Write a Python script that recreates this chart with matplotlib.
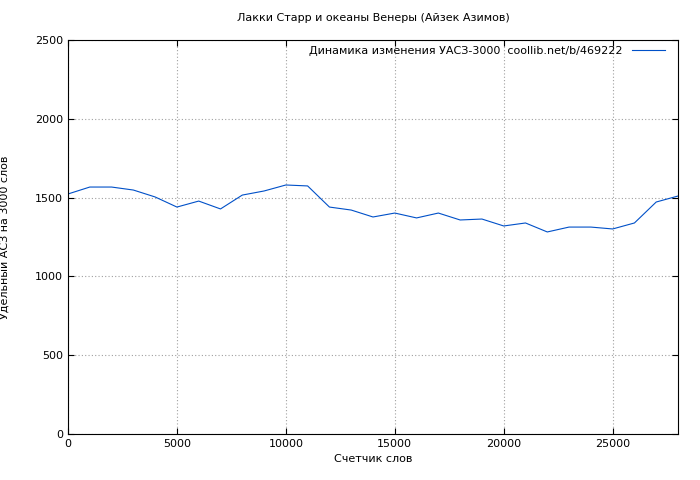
import matplotlib
matplotlib.use("Agg")
import matplotlib.pyplot as plt

words = [0, 1000, 2000, 3000, 4000, 5000, 6000, 7000, 8000, 9000, 10000,
         11000, 12000, 13000, 14000, 15000, 16000, 17000, 18000, 19000,
         20000, 21000, 22000, 23000, 24000, 25000, 26000, 27000, 28000]
uas = [1523, 1567, 1567, 1548, 1504, 1440, 1478, 1428, 1516, 1542, 1580,
       1574, 1440, 1421, 1377, 1402, 1371, 1402, 1358, 1364,
       1320, 1339, 1282, 1313, 1313, 1301, 1339, 1472, 1510]

plt.rcParams['font.size'] = 8
fig = plt.figure(figsize=(7, 4.8), dpi=100)
ax = fig.add_axes([68/700, 46/480, 610/700, 394/480])
ax.plot(words, uas, color='#0050c8', lw=0.8,
        label='Динамика изменения УАСЗ-3000  coollib.net/b/469222')
ax.set_xlim(0, 28000)
ax.set_ylim(0, 2500)
ax.set_xticks(range(0, 28001, 5000))
ax.set_yticks(range(0, 2501, 500))
ax.grid(True, color='#a0a0a0', linestyle=(0, (1, 2)), lw=0.8)
ax.tick_params(direction='in', length=4, top=True, right=True)
ax.set_title('Лакки Старр и океаны Венеры (Айзек Азимов)', fontsize=8, pad=14)
ax.set_xlabel('Счетчик слов')
ax.set_ylabel('Удельный АСЗ на 3000 слов')
ax.yaxis.set_label_coords(-58/610, 0.5)
ax.legend(loc='upper right', frameon=False, markerfirst=False, handlelength=3,
          bbox_to_anchor=(0.995, 1.01))
fig.savefig('out.png')
